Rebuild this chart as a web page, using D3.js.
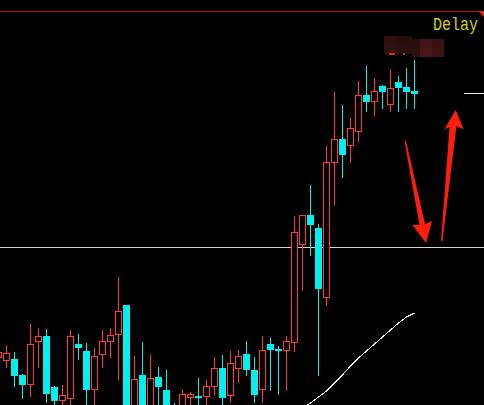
<!DOCTYPE html>
<html>
<head>
<meta charset="utf-8">
<script src="https://cdn.jsdelivr.net/npm/d3@7"></script>
<style>
  html, body { margin: 0; padding: 0; background: #000; overflow: hidden; }
  svg { display: block; }
</style>
</head>
<body>
<script>
// Bar sequence (one entry per session)
const bars   = d3.range(53);
const opens  = [143,140,141,125,116,159,164,113,100,102,156,149,111,146,159,166,195,85,125,80,123,110,90,88,103,104,104,114,132,105,132,146,130,111,156,151,150,158,256,285,272,203,338,361,355,369,405,399,414,396,418,413,409];
const highs  = [150,155,148,126,176,172,171,114,115,170,166,157,152,170,172,223,195,144,158,145,133,130,97,111,108,122,120,143,145,149,150,159,143,164,162,154,164,284,285,315,276,354,408,395,382,419,434,422,415,431,424,432,440];
const lows   = [140,132,113,101,103,132,97,88,90,92,140,88,90,132,142,120,70,75,72,70,85,80,70,80,88,85,94,105,90,97,117,124,97,97,109,105,109,148,209,244,124,194,295,322,337,358,388,384,391,388,388,391,391];
const closes = [148,147,124,115,156,164,106,99,105,164,152,110,144,159,165,189,75,121,82,122,113,88,80,106,106,102,114,132,102,137,144,130,105,150,150,149,159,268,285,275,211,338,361,345,372,405,398,409,408,412,412,408,406];

// Trailing average line, starting at bar 38
const avgStart  = 38;
const avgValues = [92,97,103,109,117,125,134,142,149,156,163,170,177,183,187];

// Reference levels
const levelMain = 253;   // long horizontal line
const levelShort = 407;  // short marker at the right edge
const statusText = "Delay";

const W = 484, H = 405;
const RED = "#ff3b3b", CYAN = "#00f0f0";

const svg = d3.select("body").append("svg")
  .attr("width", W).attr("height", H)
  .style("background", "#000");

const x = d3.scaleLinear().domain([0, bars.length - 1]).range([-2, 414]);
const y = d3.scaleLinear().domain([95, 500]).range([405, 0]);

const data = bars.map(i => ({ i, o: opens[i], h: highs[i], l: lows[i], c: closes[i] }));

// top border line
svg.append("line")
  .attr("x1", 0).attr("x2", W).attr("y1", 11.5).attr("y2", 11.5)
  .attr("stroke", "#b01818").attr("stroke-width", 1);
svg.append("path")
  .attr("d", "M478,11 L484,11 L484,17 Z")
  .attr("fill", "#e02020");

// horizontal level lines
svg.append("line")
  .attr("x1", 0).attr("x2", W)
  .attr("y1", Math.round(y(levelMain)) + 0.5).attr("y2", Math.round(y(levelMain)) + 0.5)
  .attr("stroke", "#d6d6d6").attr("stroke-width", 1);
svg.append("line")
  .attr("x1", 464).attr("x2", W)
  .attr("y1", Math.round(y(levelShort)) + 0.5).attr("y2", Math.round(y(levelShort)) + 0.5)
  .attr("stroke", "#e6e6e6").attr("stroke-width", 1);

// candles
const g = svg.append("g").attr("shape-rendering", "crispEdges");
const candle = g.selectAll("g.candle").data(data).join("g").attr("class", "candle");

candle.append("line")
  .attr("x1", d => Math.round(x(d.i)) + 0.5)
  .attr("x2", d => Math.round(x(d.i)) + 0.5)
  .attr("y1", d => Math.round(y(d.h)))
  .attr("y2", d => Math.round(y(d.l)))
  .attr("stroke", d => d.c >= d.o ? RED : CYAN)
  .attr("stroke-width", 1);

// up bars: hollow red outline
candle.filter(d => d.c >= d.o).append("rect")
  .attr("x", d => Math.round(x(d.i)) - 3 + 0.5)
  .attr("y", d => Math.round(y(d.c)) + 0.5)
  .attr("width", 6)
  .attr("height", d => Math.max(1, Math.round(y(d.o)) - Math.round(y(d.c))))
  .attr("fill", "#000")
  .attr("stroke", RED).attr("stroke-width", 1);

// down bars: solid cyan
candle.filter(d => d.c < d.o).append("rect")
  .attr("x", d => Math.round(x(d.i)) - 3)
  .attr("y", d => Math.round(y(d.o)))
  .attr("width", 7)
  .attr("height", d => Math.max(1, Math.round(y(d.c)) - Math.round(y(d.o))))
  .attr("fill", CYAN);

// average line
const avgLine = d3.line()
  .x((v, k) => x(avgStart + k) + 0.5)
  .y(v => y(v));
svg.append("path")
  .attr("d", avgLine(avgValues))
  .attr("fill", "none")
  .attr("stroke", "#f4f4f4")
  .attr("stroke-width", 1)
  .attr("shape-rendering", "crispEdges");

// status label
svg.append("text")
  .attr("transform", "translate(433,30) scale(1,1.22)")
  .attr("font-family", "Liberation Mono, DejaVu Sans Mono, monospace")
  .attr("font-size", 15)
  .attr("fill", "#d2d21e")
  .text(statusText);

// masked caption block
const mosaic = [
  [384, 36, 12, 10, "#2e1010"], [396, 36, 12, 10, "#2a0e0e"], [408, 36, 4, 10, "#2a0e0e"],
  [384, 46, 12, 8, "#321111"], [396, 46, 12, 8, "#2c0f0f"], [408, 46, 4, 8, "#2c0f0f"],
  [412, 39, 8, 9, "#2a0e0e"], [420, 39, 12, 9, "#3e1414"], [432, 39, 12, 9, "#381212"],
  [412, 48, 8, 9, "#2e1010"], [420, 48, 12, 9, "#4a1616"], [432, 48, 12, 9, "#3e1313"]
];
svg.append("g").selectAll("rect").data(mosaic).join("rect")
  .attr("x", d => d[0]).attr("y", d => d[1])
  .attr("width", d => d[2]).attr("height", d => d[3])
  .attr("fill", d => d[4]);
svg.append("rect").attr("x", 389).attr("y", 53).attr("width", 6).attr("height", 2).attr("fill", "#d82828");
svg.append("rect").attr("x", 403).attr("y", 53).attr("width", 2).attr("height", 2).attr("fill", "#d82828");

// annotation arrows
svg.append("polygon")
  .attr("points", "404.5,141 406,141 425,224 432,221 426,243 412.5,225 419.5,225")
  .attr("fill", "#ff1e0e");
svg.append("polygon")
  .attr("points", "441,241 449.5,127 444.3,129.5 455.7,110 463.7,129.5 456.5,126 442.5,241")
  .attr("fill", "#ff1e0e");
</script>
</body>
</html>
